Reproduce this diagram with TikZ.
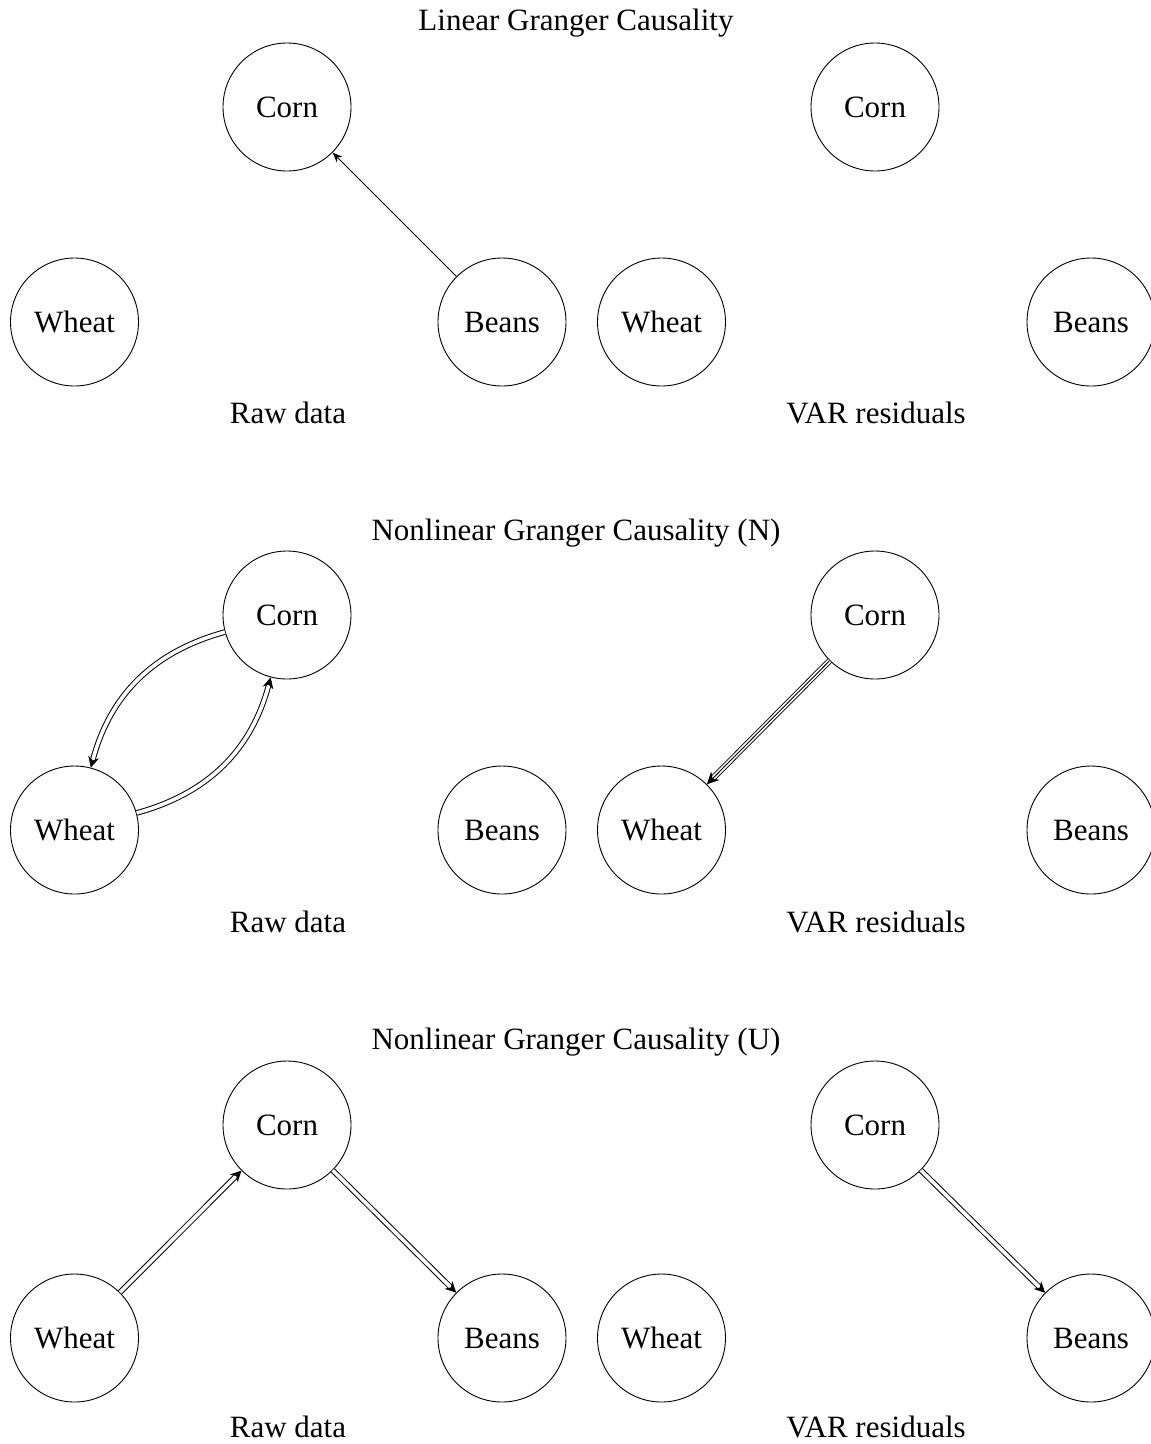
\documentclass[tikz,border=0pt]{standalone}
\usepackage{fontspec}
\setmainfont{Liberation Serif}
\usetikzlibrary{arrows.meta}
\begin{document}
\begin{tikzpicture}[x=1pt,y=1pt,
  var/.style={draw, circle, minimum size=128pt, inner sep=0pt, line width=0.9pt, font=\fontsize{31}{36}\selectfont},
  lbl/.style={font=\fontsize{31}{36}\selectfont},
  single/.style={line width=0.9pt, -{Stealth[length=10pt,width=8pt]}},
  dbl/.style={line width=1pt, double distance=3.6pt, -{Stealth[length=11pt,width=11pt]}},
  trpl/.style={line width=0.9pt, double distance=4.2pt, -{Stealth[length=12pt,width=12pt]}}
]
\useasboundingbox (0,0) rectangle (1151,-1444);

% ---------- Section 1 ----------
\node[lbl] (t1) at (576,-23) {Linear Granger Causality};
\node[var] (c1a) at (287,-107) {Corn};
\node[var] (w1a) at (74.5,-322) {Wheat};
\node[var] (b1a) at (502,-322) {Beans};
\node[lbl] (l1a) at (288,-413) {Raw data};
\node[var] (c1b) at (875,-107) {Corn};
\node[var] (w1b) at (661.5,-322) {Wheat};
\node[var] (b1b) at (1091,-322) {Beans};
\node[lbl] (l1b) at (876,-413) {VAR residuals};
\draw[single] (b1a) -- (c1a);

% ---------- Section 2 ----------
\node[lbl] (t2) at (576,-533) {Nonlinear Granger Causality (N)};
\node[var] (c2a) at (287,-615) {Corn};
\node[var] (w2a) at (74.5,-830) {Wheat};
\node[var] (b2a) at (502,-830) {Beans};
\node[lbl] (l2a) at (288,-922) {Raw data};
\node[var] (c2b) at (875,-615) {Corn};
\node[var] (w2b) at (661.5,-830) {Wheat};
\node[var] (b2b) at (1091,-830) {Beans};
\node[lbl] (l2b) at (876,-922) {VAR residuals};
\draw[dbl] (c2a) to[bend right=30] (w2a);
\draw[dbl] (w2a) to[bend right=30] (c2a);
\draw[trpl] (c2b) -- (w2b);
\draw[line width=0.9pt, shorten >=7pt] (c2b) -- (w2b);

% ---------- Section 3 ----------
\node[lbl] (t3) at (576,-1042) {Nonlinear Granger Causality (U)};
\node[var] (c3a) at (287,-1125) {Corn};
\node[var] (w3a) at (74.5,-1338) {Wheat};
\node[var] (b3a) at (502,-1338) {Beans};
\node[lbl] (l3a) at (288,-1427) {Raw data};
\node[var] (c3b) at (875,-1125) {Corn};
\node[var] (w3b) at (661.5,-1338) {Wheat};
\node[var] (b3b) at (1091,-1338) {Beans};
\node[lbl] (l3b) at (876,-1427) {VAR residuals};
\draw[dbl] (w3a) -- (c3a);
\draw[dbl] (c3a) -- (b3a);
\draw[dbl] (c3b) -- (b3b);
\end{tikzpicture}
\end{document}
